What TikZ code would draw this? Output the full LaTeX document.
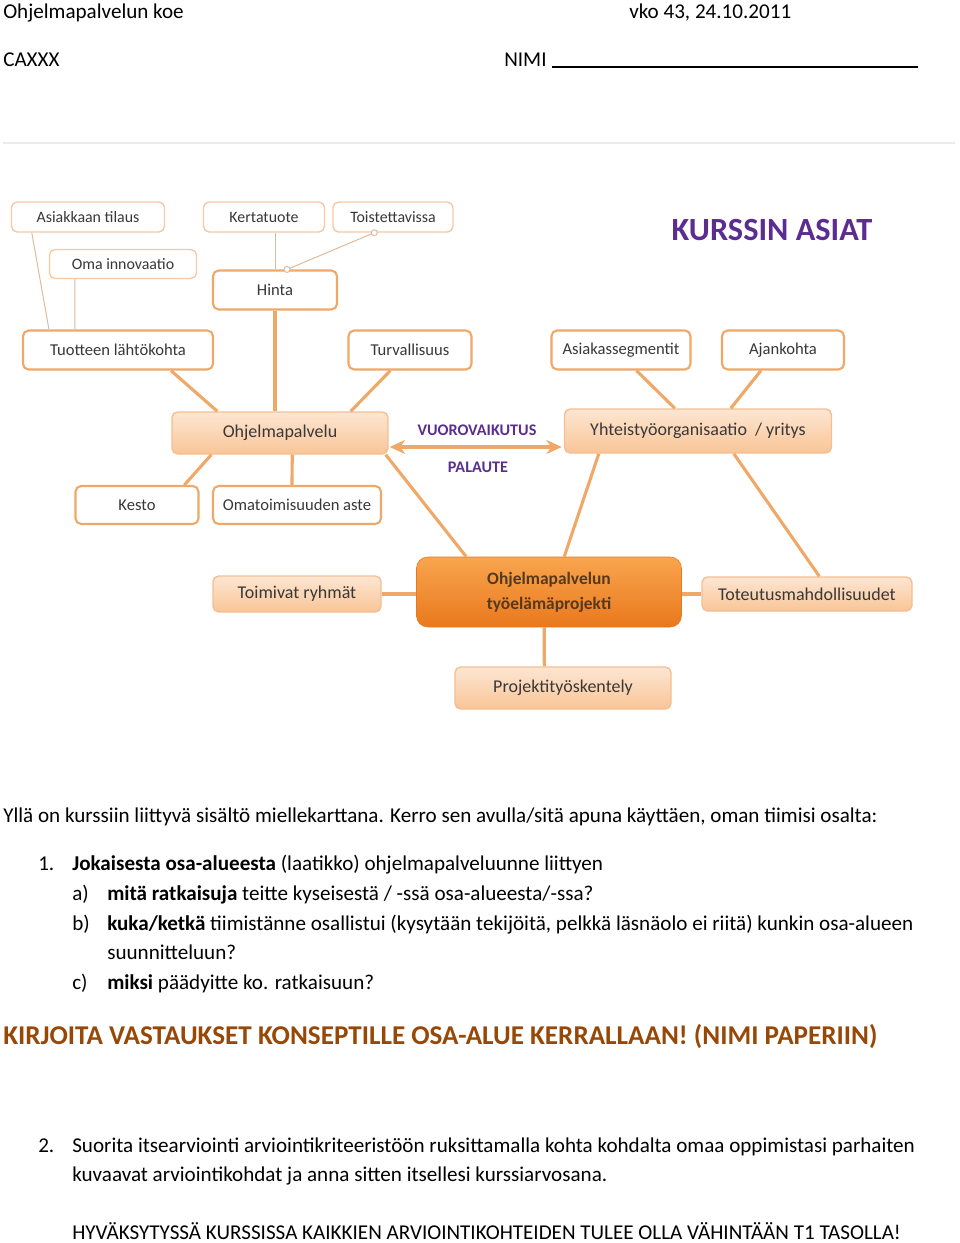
\documentclass[tikz,border=0pt]{standalone}
\usepackage{fontspec}
\setmainfont{Carlito}
\newfontfamily\docfont{Carlito}
\usetikzlibrary{calc,arrows.meta}
\definecolor{lineorange}{HTML}{F0A868}
\definecolor{paleorange}{HTML}{F6C9A4}
\definecolor{peachtop}{HTML}{FDE6D2}
\definecolor{peachbot}{HTML}{F9C597}
\definecolor{coretop}{HTML}{F9A54F}
\definecolor{corebot}{HTML}{E9781C}
\definecolor{titlepurple}{HTML}{5C2D91}
\definecolor{warnbrown}{HTML}{984806}
\tikzset{
  leaf/.style={draw=paleorange, line width=1pt, rounded corners=4pt, fill=white,
    font=\fontsize{11.3}{13}\selectfont, text=black!78},
  branch/.style={leaf, draw=lineorange, line width=1.5pt, font=\fontsize{11.8}{14}\selectfont},
  topic/.style={leaf, draw=paleorange!70!lineorange, top color=peachtop, bottom color=peachbot,
    font=\fontsize{12.8}{15}\selectfont},
  core/.style={rounded corners=8pt, top color=coretop, bottom color=corebot, draw=corebot,
    text=brown!45!black, font=\bfseries\fontsize{12.4}{17.7}\selectfont, align=center},
  thick link/.style={draw=lineorange, line width=2.2pt},
  thin link/.style={draw=paleorange!80!gray, line width=0.7pt},
  bw/.style={minimum width=#1*0.025cm},
  bh/.style={minimum height=#1*0.025cm},
  txt/.style={anchor=base west, inner sep=0pt, font=\docfont\fontsize{15}{17}\selectfont},
  linklabel/.style={text=titlepurple, font=\bfseries\fontsize{11.5}{13}\selectfont}
}
\begin{document}
\begin{tikzpicture}[x=0.025cm, y=-0.025cm]
    \useasboundingbox (0,0) rectangle (960,1243);
    % header
    \node[txt] (kurssi) at (3,18) {Ohjelmapalvelun koe};
    \node[txt] (pvm) at (629,18) {vko 43, 24.10.2011};
    \node[txt] (koodi) at (3,66) {CAXXX};
    \node[txt] (nimi) at (504,66) {NIMI};
    \coordinate (viiva) at (552,67);
    \draw[line width=0.8pt] (viiva) -- (918,67);
    \draw[black!8, line width=1pt] (3,143) -- (955,143);
    % mind map title
    \node[text=titlepurple, font=\bfseries\fontsize{23}{27}\selectfont] (otsikko) at (772,230) {KURSSIN ASIAT};
    % upper leaves
    \node[leaf, bw=153, bh=30] (tilaus) at (88,217) {Asiakkaan tilaus};
    \node[leaf, bw=121, bh=30] (kerta) at (264,217) {Kertatuote};
    \node[leaf, bw=120, bh=30] (toisto) at (393,217) {Toistettavissa};
    \node[leaf, bw=147, bh=29] (innov) at (123,264) {Oma innovaatio};
    \node[branch, bw=124, bh=39] (hinta) at (275,290) {Hinta};
    \node[branch, bw=190, bh=39] (lahto) at (118,350) {Tuotteen lähtökohta};
    \node[branch, bw=123, bh=39] (turva) at (410,350) {Turvallisuus};
    \node[branch, bw=139, bh=39] (segm) at (621,350) {Asiakassegmentit};
    \node[branch, bw=122, bh=39] (ajank) at (783,350) {Ajankohta};
    % main topics
    \node[topic, bw=216, bh=42] (ohjelma) at (280,433) {Ohjelmapalvelu};
    \node[topic, bw=267, bh=44] (yhteis) at (698,431) {Yhteistyöorganisaatio\ \ / yritys};
    \node[linklabel] (vuoro) at (477,430) {VUOROVAIKUTUS};
    \node[linklabel] (palaute) at (478,467) {PALAUTE};
    \node[branch, bw=123, bh=38] (kesto) at (137,505) {Kesto};
    \node[branch, bw=168, bh=38] (omatoim) at (297,505) {Omatoimisuuden aste};
    \node[topic, bw=168, bh=36] (ryhmat) at (297,594) {Toimivat ryhmät};
    \node[core, bw=265, bh=70] (projekti) at (549,592) {Ohjelmapalvelun\\työelämäprojekti};
    \node[topic, bw=210, bh=34] (toteutus) at (807,594) {Toteutusmahdollisuudet};
    \node[topic, bw=216, bh=42] (tyoskent) at (563,688) {Projektityöskentely};
    % thin links
    \draw[thin link] ($(tilaus.south west)+(21,0)$) -- ($(lahto.north west)+(27,0)$);
    \draw[thin link] ($(innov.south west)+(26,0)$) -- ($(lahto.north west)+(53,0)$);
    \draw[thin link] (kerta.south -| hinta.north) -- (hinta.north);
    \draw[thin link] ($(toisto.south west)+(42,0)$) -- ($(hinta.north)+(12,0)$);
    \draw[thin link, fill=white] ($(toisto.south west)+(42,0)$) circle (3);
    \draw[thin link, fill=white] ($(hinta.north)+(12,0)$) circle (3);
    % thick links
    \draw[thick link] (hinta.south) -- (hinta.south |- ohjelma.north);
    \draw[thick link] ($(lahto.south west)+(149,0)$) -- ($(ohjelma.north west)+(46,0)$);
    \draw[thick link] ($(turva.south west)+(43,0)$) -- ($(ohjelma.north east)+(-38,0)$);
    \draw[thick link] ($(segm.south west)+(86,0)$) -- ($(yhteis.north west)+(111,0)$);
    \draw[thick link] ($(ajank.south west)+(40,0)$) -- ($(yhteis.north west)+(167,0)$);
    \draw[thick link] ($(ohjelma.south west)+(40,0)$) -- ($(kesto.north west)+(110,0)$);
    \draw[thick link] ($(ohjelma.south west)+(121,0)$) -- ($(omatoim.north west)+(80,0)$);
    \draw[thick link] ($(ohjelma.south east)+(-3,0)$) -- ($(projekti.north west)+(50,0)$);
    \draw[thick link] ($(yhteis.south west)+(35,0)$) -- ($(projekti.north west)+(148,0)$);
    \draw[thick link] ($(yhteis.south west)+(170,0)$) -- ($(toteutus.north west)+(118,0)$);
    \draw[thick link] (ryhmat.east) -- (projekti.west |- ryhmat.east);
    \draw[thick link] (projekti.east |- toteutus.west) -- (toteutus.west);
    \draw[thick link] ($(projekti.south west)+(128,0)$) -- ($(tyoskent.north west)+(90,0)$);
    \draw[thick link, {Stealth[length=11pt,width=10pt]}-{Stealth[length=11pt,width=10pt]}]
        ($(ohjelma.east)+(1,14)$) -- ($(yhteis.west)+(-2,16)$);
    % questions
    \node[txt] (intro) at (3,822) {Yllä on kurssiin liittyvä sisältö miellekarttana. Kerro sen avulla/sitä apuna käyttäen, oman tiimisi osalta:};
    \node[txt] (n1) at (38,870) {1.};
    \node[txt] (k1) at (72,870) {\textbf{Jokaisesta osa-alueesta} (laatikko) ohjelmapalveluunne liittyen};
    \node[txt] (na) at (72,900) {a)};
    \node[txt] (ka) at (107,900) {\textbf{mitä ratkaisuja} teitte kyseisestä / -ssä osa-alueesta/-ssa?};
    \node[txt] (nb) at (72,930) {b)};
    \node[txt] (kb) at (107,930) {\textbf{kuka/ketkä} tiimistänne osallistui (kysytään tekijöitä, pelkkä läsnäolo ei riitä) kunkin osa-alueen};
    \node[txt] (kb2) at (107,959) {suunnitteluun?};
    \node[txt] (nc) at (72,989) {c)};
    \node[txt] (kc) at (107,989) {\textbf{miksi} päädyitte ko. ratkaisuun?};
    \node[txt, text=warnbrown, font=\docfont\bfseries\fontsize{19.3}{22}\selectfont] (ohje) at (3,1044) {KIRJOITA VASTAUKSET KONSEPTILLE OSA-ALUE KERRALLAAN! (NIMI PAPERIIN)};
    \node[txt] (n2) at (38,1152) {2.};
    \node[txt] (k2) at (72,1152) {Suorita itsearviointi arviointikriteeristöön ruksittamalla kohta kohdalta omaa oppimistasi parhaiten};
    \node[txt] (k22) at (72,1181) {kuvaavat arviointikohdat ja anna sitten itsellesi kurssiarvosana.};
    \node[txt] (huom) at (72,1239) {HYVÄKSYTYSSÄ KURSSISSA KAIKKIEN ARVIOINTIKOHTEIDEN TULEE OLLA VÄHINTÄÄN T1 TASOLLA!};
\end{tikzpicture}
\end{document}
